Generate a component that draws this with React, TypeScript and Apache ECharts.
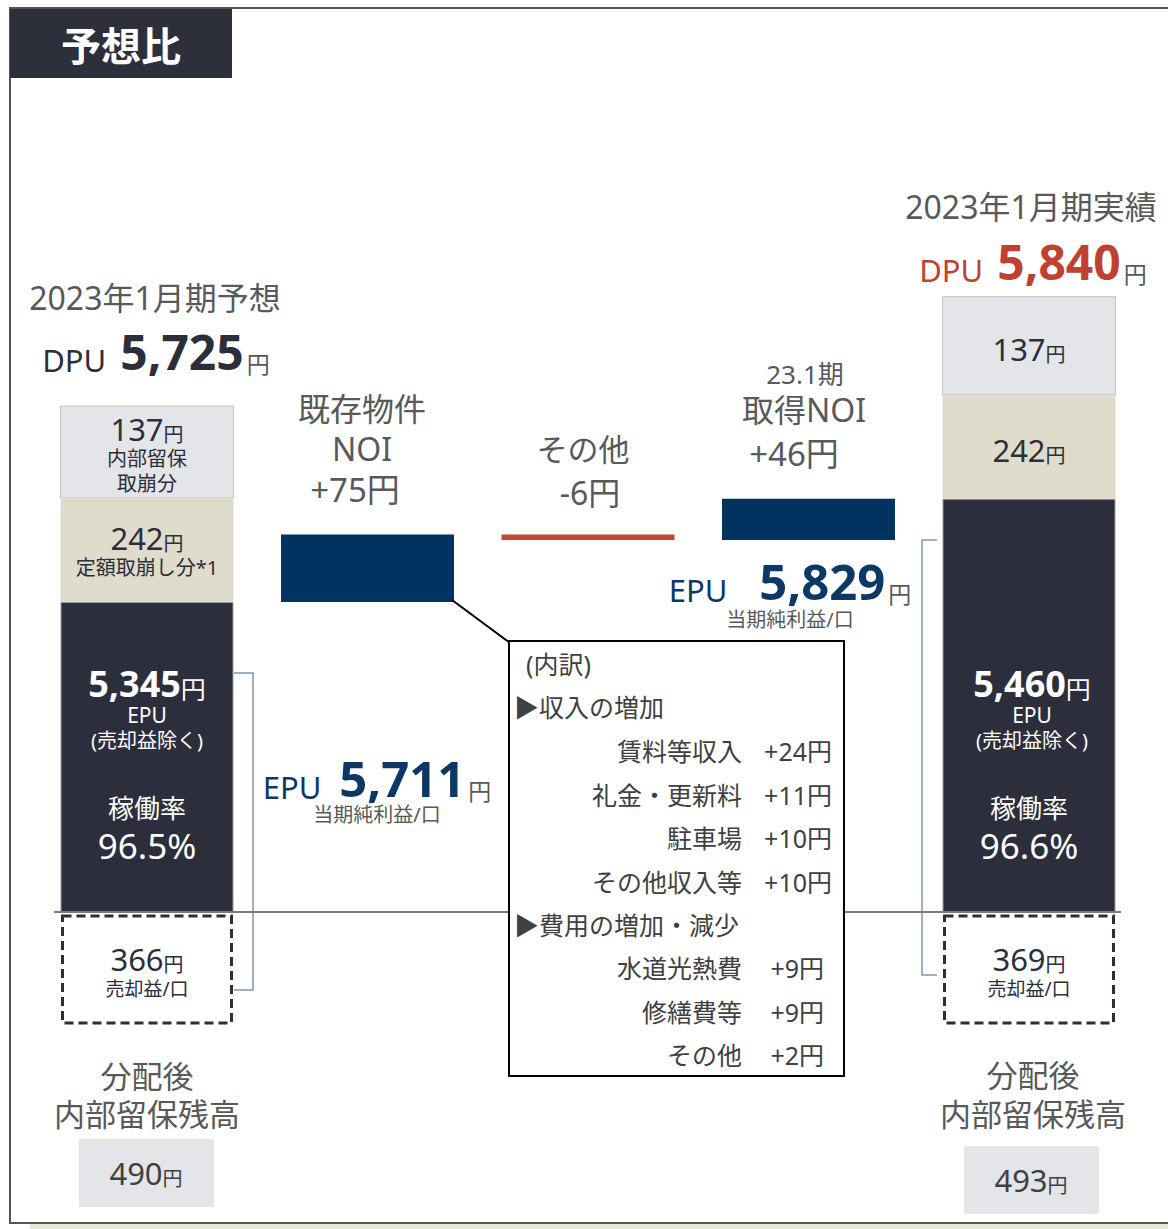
import React, { useEffect, useRef } from "react";
import * as echarts from "echarts";

// ---------- data ----------
const categories = ["2023年1月期予想", "既存物件NOI", "その他", "取得NOI", "2023年1月期実績"];
const epuExSale = [5345, 5460];
const changes = [75, -6, 46];
const changeTitles = [["既存物件", "NOI"], ["その他"], ["23.1期", "取得NOI"]];
const fixedDrawdown = [242, 242];
const retainedDrawdown = [137, 137];
const saleGain = [366, 369];
const dpu = [5725, 5840];
const epuNet = [5711, 5829];
const occupancy = [96.5, 96.6];
const retainedBalance = [490, 493];
const headers = ["2023年1月期予想", "2023年1月期実績"];
const incomeItems = ["賃料等収入", "礼金・更新料", "駐車場", "その他収入等"];
const incomeValues = [24, 11, 10, 10];
const expenseItems = ["水道光熱費", "修繕費等", "その他"];
const expenseValues = [9, 9, 2];

// ---------- styles ----------
const FONT = '"Noto Sans", "Noto Sans CJK JP", sans-serif';
const font = (size: number, weight: string = "normal") => `${weight} ${size}px ${FONT}`;
const C_DARK = "#2c2e3b";
const C_GRAYSEG = "#e4e5e9";
const C_BEIGE = "#e0dccb";
const C_NAVY = "#003360";
const C_RED = "#c8462f";
const C_DPU_RED = "#c0412f";
const C_TEXT = "#595959";
const C_TEXT2 = "#404040";
const C_EPU = "#0c3866";
const C_BRACKET = "#7f96b0";

const AXIS_MIN = 5000;
const AXIS_MAX = 5900;
const BASE_Y = 912;
const GRID_TOP = 103.3;
const BAR_W = 173;
const BEIGE_H = 104;
const GRAY_H = [92, 98];
const DASH_H = 107;

const fmt = (v: number) => v.toLocaleString("en-US");

// waterfall levels
const levels: number[] = [epuExSale[0]];
changes.forEach((c) => levels.push(levels[levels.length - 1] + c));
const wfBase: any[] = ["-", ...changes.map((c, i) => Math.min(levels[i], levels[i + 1])), "-"];
const wfDelta: any[] = [
  "-",
  ...changes.map((c) => ({ value: Math.abs(c), itemStyle: { color: c >= 0 ? C_NAVY : C_RED } })),
  "-",
];
const darkData: any[] = [epuExSale[0], "-", "-", "-", epuExSale[1]];
const totalsData = [
  [0, epuExSale[0], 0],
  [4, epuExSale[1], 1],
];

const txt = (x: number, y: number, text: string, size: number, color: string, weight = "normal", align = "center", z = 20) => ({
  type: "text",
  x,
  y,
  z,
  style: { text, font: font(size, weight), fill: color, align, verticalAlign: "middle" },
});

const yen = (x: number, y: number, num: string, numSize: number, unitSize: number, color: string, weight = "normal", unitColor?: string, z = 20) => ({
  type: "text",
  x,
  y,
  z,
  style: {
    text: `{n|${num}}{u|円}`,
    fill: color,
    font: font(numSize, weight),
    align: "center",
    verticalAlign: "middle",
    rich: {
      n: { font: font(numSize, weight), fill: color, verticalAlign: "bottom", lineHeight: numSize },
      u: { font: font(unitSize), fill: unitColor || color, verticalAlign: "bottom", lineHeight: unitSize },
    },
  },
});

const labeled = (x: number, y: number, label: string, labelSize: number, labelColor: string, gap: number, num: string, numSize: number, numColor: string, unitSize: number, unitColor: string, z = 20) => ({
  type: "text",
  x,
  y,
  z,
  style: {
    text: `{l|${label}}{n|${num}}{u|円}`,
    fill: numColor,
    font: font(numSize, "bold"),
    align: "center",
    verticalAlign: "middle",
    rich: {
      l: { font: font(labelSize), fill: labelColor, verticalAlign: "bottom", padding: [0, gap, 0, 0], lineHeight: labelSize },
      n: { font: font(numSize, "bold"), fill: numColor, verticalAlign: "bottom", padding: [0, 3, 0, 0], lineHeight: numSize },
      u: { font: font(unitSize), fill: unitColor, verticalAlign: "bottom", lineHeight: unitSize },
    },
  },
});

function renderTotals(params: any, api: any) {
  const cat = api.value(0);
  const k = api.value(2);
  const top = api.coord([cat, api.value(1)]);
  const base = api.coord([cat, AXIS_MIN]);
  const cx = top[0];
  const x0 = cx - BAR_W / 2;
  const beigeTop = top[1] - BEIGE_H;
  const grayTop = beigeTop - GRAY_H[k];
  const by = base[1];
  const children: any[] = [
    { type: "rect", shape: { x: x0, y: grayTop, width: BAR_W, height: GRAY_H[k] }, style: { fill: C_GRAYSEG, stroke: "#c2c3c9", lineWidth: 1 } },
    { type: "rect", shape: { x: x0, y: beigeTop, width: BAR_W, height: BEIGE_H }, style: { fill: C_BEIGE } },
    { type: "rect", shape: { x: x0 + 2, y: by + 4, width: BAR_W - 4, height: DASH_H }, style: { fill: "#ffffff", stroke: C_DARK, lineWidth: 3, lineDash: [9, 5] } },
  ];
  if (k === 0) {
    children.push(yen(cx, grayTop + 23, String(retainedDrawdown[k]), 31, 20, C_DARK));
    children.push(txt(cx, grayTop + 53, "内部留保", 20, C_DARK));
    children.push(txt(cx, grayTop + 78, "取崩分", 20, C_DARK));
    children.push(yen(cx, beigeTop + 40, String(fixedDrawdown[k]), 31, 20, C_DARK));
    children.push(txt(cx, beigeTop + 70, "定額取崩し分*1", 20, C_DARK));
  } else {
    children.push(yen(cx, grayTop + 52, String(retainedDrawdown[k]), 31, 20, C_DARK));
    children.push(yen(cx, beigeTop + 55, String(fixedDrawdown[k]), 31, 20, C_DARK));
  }
  const dx = k === 0 ? 0 : 3;
  children.push(yen(cx + dx, by - 229, fmt(epuExSale[k]), 36, 25, "#ffffff", "bold"));
  children.push(txt(cx + dx, by - 197, "EPU", 21, "#ffffff"));
  children.push(txt(cx + dx, by - 172, "(売却益除く)", 20, "#ffffff"));
  children.push(txt(cx, by - 104, "稼働率", 26, "#ffffff"));
  children.push(txt(cx, by - 67, `${occupancy[k].toFixed(1)}%`, 35, "#ffffff"));
  children.push(yen(cx, by + 47, String(saleGain[k]), 31, 20, C_DARK));
  children.push(txt(cx, by + 77, "売却益/口", 19, C_DARK));
  return { type: "group", children };
}

function buildGraphic() {
  const g: any[] = [];
  // frame
  g.push({ type: "polyline", z: 1, shape: { points: [[1168, 8], [10, 8], [10, 1223], [1168, 1223]] }, style: { stroke: "#555555", lineWidth: 2, fill: "none" } });
  g.push({ type: "rect", z: 1, shape: { x: 30, y: 1224, width: 1138, height: 5 }, style: { fill: "#ebe7d6" } });
  // title
  g.push({ type: "rect", z: 5, shape: { x: 10, y: 9, width: 222, height: 69 }, style: { fill: "#2d2f3b" } });
  g.push(txt(121, 45, "予想比", 40, "#ffffff", "bold"));
  // headers
  g.push(txt(155, 297, headers[0], 32, C_TEXT));
  g.push(labeled(156, 351, "DPU", 31, C_DARK, 14, fmt(dpu[0]), 48, C_DARK, 23, C_TEXT));
  g.push(txt(1031, 206, headers[1], 32, C_TEXT));
  g.push(labeled(1033, 261, "DPU", 31, C_DPU_RED, 14, fmt(dpu[1]), 48, C_DPU_RED, 23, C_TEXT));
  // waterfall titles
  const fmtChange = (c: number) => (c >= 0 ? "+" : "-") + Math.abs(c) + "円";
  g.push(txt(362, 408, changeTitles[0][0], 32, C_TEXT));
  g.push(txt(362, 448, changeTitles[0][1], 32, C_TEXT));
  g.push(txt(355, 489, fmtChange(changes[0]), 33, C_TEXT));
  g.push(txt(583, 449, changeTitles[1][0], 31, C_TEXT));
  g.push(txt(590, 492, fmtChange(changes[1]), 32, C_TEXT));
  g.push(txt(805, 374, changeTitles[2][0], 26, C_TEXT));
  g.push(txt(804, 409, changeTitles[2][1], 32, C_TEXT));
  g.push(txt(794, 453, fmtChange(changes[2]), 33, C_TEXT));
  // EPU net labels
  g.push(labeled(377, 778, "EPU", 31, C_EPU, 18, fmt(epuNet[0]), 49, C_EPU, 23, C_TEXT));
  g.push(txt(377, 814, "当期純利益/口", 20, C_TEXT));
  g.push(labeled(790, 581, "EPU", 31, C_EPU, 32, fmt(epuNet[1]), 49, C_EPU, 23, C_TEXT));
  g.push(txt(790, 619, "当期純利益/口", 20, C_TEXT));
  // brackets
  g.push({ type: "polyline", z: 6, shape: { points: [[234, 673], [253, 673], [253, 990], [234, 990]] }, style: { stroke: C_BRACKET, lineWidth: 1.5, fill: "none" } });
  g.push({ type: "polyline", z: 6, shape: { points: [[937, 540], [922, 540], [922, 975], [937, 975]] }, style: { stroke: C_BRACKET, lineWidth: 1.5, fill: "none" } });
  // baseline
  g.push({ type: "line", z: 10, shape: { x1: 54, y1: BASE_Y, x2: 1121, y2: BASE_Y }, style: { stroke: "#7a7a7a", lineWidth: 2 } });
  // connector
  g.push({ type: "line", z: 10, shape: { x1: 452, y1: 600, x2: 510, y2: 643 }, style: { stroke: "#000000", lineWidth: 2 } });
  // breakdown box
  g.push({ type: "rect", z: 11, shape: { x: 509, y: 641, width: 335, height: 435 }, style: { fill: "#ffffff", stroke: "#000000", lineWidth: 2 } });
  const BF = 25;
  g.push(txt(526, 664, "(内訳)", BF, C_TEXT2, "normal", "left"));
  g.push(txt(514, 707, "▶収入の増加", BF, C_TEXT2, "normal", "left"));
  const rowH = 43.5;
  incomeItems.forEach((it, i) => {
    const y = 751 + i * rowH;
    g.push(txt(742, y, it, BF, C_TEXT2, "normal", "right"));
    g.push(txt(incomeValues[i] >= 10 ? 832 : 824, y, `+${incomeValues[i]}円`, BF, C_TEXT2, "normal", "right"));
  });
  g.push(txt(514, 925, "▶費用の増加・減少", BF, C_TEXT2, "normal", "left"));
  expenseItems.forEach((it, i) => {
    const y = 968 + i * rowH;
    g.push(txt(742, y, it, BF, C_TEXT2, "normal", "right"));
    g.push(txt(expenseValues[i] >= 10 ? 832 : 824, y, `+${expenseValues[i]}円`, BF, C_TEXT2, "normal", "right"));
  });
  // retained balance
  const bx = [147, 1033];
  const boxes = [
    { x: 79, y: 1139 },
    { x: 964, y: 1146 },
  ];
  [0, 1].forEach((k) => {
    g.push(txt(bx[k], k === 0 ? 1076 : 1075, "分配後", 31, C_TEXT));
    g.push(txt(bx[k], 1114, "内部留保残高", 31, C_TEXT));
    g.push({ type: "rect", z: 5, shape: { x: boxes[k].x, y: boxes[k].y, width: 135, height: 68 }, style: { fill: C_GRAYSEG } });
    g.push(yen(boxes[k].x + 67, boxes[k].y + 34, String(retainedBalance[k]), 31, 20, C_TEXT2));
  });
  return g;
}

function buildOption() {
  return {
    animation: false,
    backgroundColor: "#ffffff",
    grid: { left: 36.75, right: 28.75, top: GRID_TOP, bottom: 1229 - BASE_Y, containLabel: false },
    xAxis: { type: "category", data: categories, show: false },
    yAxis: { type: "value", min: AXIS_MIN, max: AXIS_MAX, show: false, splitLine: { show: false } },
    series: [
      {
        type: "bar",
        name: "EPU(売却益除く)",
        data: darkData,
        barWidth: BAR_W,
        barGap: "-100%",
        clip: true,
        itemStyle: { color: C_DARK, borderColor: "#9a9ba3", borderWidth: 1 },
        z: 2,
      },
      { type: "bar", name: "base", stack: "wf", data: wfBase, barWidth: BAR_W, barGap: "-100%", itemStyle: { color: "transparent" }, silent: true, clip: true },
      { type: "bar", name: "change", stack: "wf", data: wfDelta, barWidth: BAR_W, barGap: "-100%", clip: true },
      { type: "custom", name: "totals", data: totalsData, renderItem: renderTotals, encode: { x: 0, y: 1 }, z: 3 },
    ],
    graphic: buildGraphic(),
  };
}

export default function App() {
  const ref = useRef<HTMLDivElement>(null);
  useEffect(() => {
    const chart = echarts.init(ref.current!, null, { renderer: "svg" });
    chart.setOption(buildOption() as any);
    return () => chart.dispose();
  }, []);
  return <div ref={ref} style={{ position: "absolute", left: 0, top: 0, width: 1168, height: 1229, background: "#fff" }} />;
}
